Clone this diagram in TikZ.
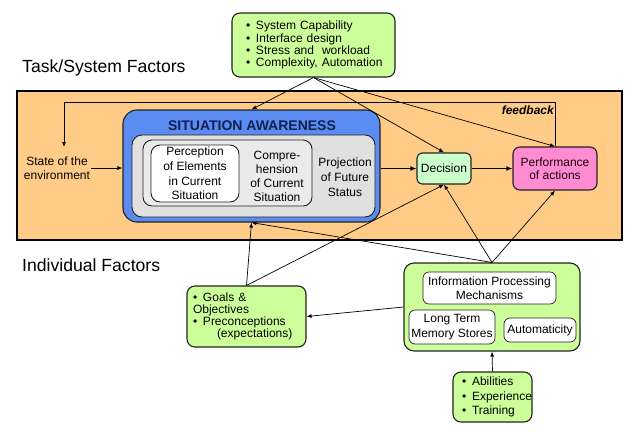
\documentclass[tikz,border=0pt]{standalone}
\usepackage{fontspec}
\setmainfont{Liberation Sans}
\usetikzlibrary{arrows.meta}
\frenchspacing
\definecolor{orangebg}{HTML}{FFCC88}
\definecolor{sablue}{HTML}{5A8CF2}
\definecolor{grayA}{HTML}{E0E0E0}
\definecolor{grayB}{HTML}{EAEAEA}
\definecolor{limeg}{HTML}{CCFF99}
\definecolor{mintg}{HTML}{CCFFCC}
\definecolor{pinkp}{HTML}{FF8CD0}
\definecolor{navy}{HTML}{132050}
\definecolor{bordr}{HTML}{222222}
\begin{document}
\begin{tikzpicture}[x=1pt,y=-1pt,
  box/.style={draw=bordr, line width=1.1pt, rounded corners=#1, inner sep=0pt},
  box/.default=8pt,
  wbox/.style={draw=bordr, line width=0.7pt, fill=white, rounded corners=6pt, inner sep=0pt, align=center,
    font=\fontsize{12}{14.5}\selectfont},
  arr/.style={-{Latex[length=5pt,width=4pt]}, line width=0.7pt},
  thickarr/.style={-{Latex[length=6pt,width=5pt]}, line width=1.6pt},
  txt/.style={align=center, inner sep=1pt, font=\fontsize{12}{14.5}\selectfont},
  heading/.style={anchor=west, inner sep=0pt, font=\fontsize{17.6}{20}\selectfont}
]
\useasboundingbox (0,0) rectangle (640,445);

% headings
\node[heading] (tsf) at (22,68) {Task/System Factors};
\node[heading] (indf) at (22,265) {Individual Factors};

% orange area
\node[draw=black, line width=2pt, fill=orangebg, minimum width=605pt, minimum height=149pt, inner sep=0pt] (orange) at (319.5,165.5) {};

% top box
\node[box, fill=limeg, minimum width=163pt, minimum height=64pt, text width=135pt, inner xsep=14pt, align=left,
  font=\fontsize{12}{12.2}\selectfont] (top) at (313.5,45)
  {\mbox{\makebox[10pt][l]{\textbullet}System Capability}\\
   \mbox{\makebox[10pt][l]{\textbullet}Interface design}\\
   \mbox{\makebox[10pt][l]{\textbullet}Stress and\ \ workload}\\
   \mbox{\makebox[10pt][l]{\textbullet}Complexity, Automation}};

% situation awareness
\node[box=14pt, fill=sablue, minimum width=257pt, minimum height=112pt] (sa) at (251.5,166) {};
\node[inner sep=0pt, text=navy, font=\fontsize{14}{16}\bfseries] (satitle) at (252,126) {SITUATION AWARENESS};
\node[box=10pt, fill=grayA, line width=0.9pt, minimum width=243pt, minimum height=82pt] (gray) at (253.5,176) {};
\node[box=9pt, fill=grayB, line width=0.9pt, minimum width=169pt, minimum height=66pt] (comp) at (227.5,173) {};
\node[box=9pt, fill=white, line width=0.9pt, minimum width=88pt, minimum height=57pt, align=center,
  font=\fontsize{12}{14.6}\selectfont] (perc) at (195,173.5)
  {Perception\\of Elements\\in Current\\Situation};
\node[txt, font=\fontsize{12}{14}\selectfont] (comptext) at (277,176) {Compre-\\hension\\of Current\\Situation};
\node[txt, font=\fontsize{12}{15}\selectfont] (proj) at (345,177) {Projection\\of Future\\Status};

% state
\node[txt, font=\fontsize{12}{14}\selectfont] (state) at (57,168) {State of the\\environment};

% decision & performance
\node[box=5pt, fill=mintg, minimum width=54pt, minimum height=31pt, font=\fontsize{12}{14}\selectfont] (dec) at (444,168.5) {Decision};
\node[box=7pt, fill=pinkp, minimum width=84pt, minimum height=43pt, align=center, text=black!85!purple,
  font=\fontsize{12}{12.5}\selectfont] (perf) at (555,168.5) {Performance\\of actions};

\node[inner sep=0pt, anchor=east, font=\fontsize{12}{14}\bfseries\itshape] (fb) at (554,110) {feedback};

% individual factors boxes
\node[box, fill=limeg, minimum width=119pt, minimum height=61pt, text width=107pt, inner xsep=6pt, align=left,
  font=\fontsize{12}{12}\selectfont] (goals) at (246.5,316.5)
  {\makebox[10pt][l]{\textbullet}Goals \&\\
   Objectives\\
   \makebox[10pt][l]{\textbullet}Preconceptions\\
   \hspace*{24pt}(expectations)};
\node[box=10pt, fill=limeg, minimum width=176pt, minimum height=88pt] (info) at (492,307) {};
\node[wbox, minimum width=133pt, minimum height=32pt] (ipm) at (489.5,288) {Information Processing\\Mechanisms};
\node[wbox, minimum width=86pt, minimum height=34pt, font=\fontsize{12}{15}\selectfont] (ltm) at (452,327) {Long Term\\Memory Stores};
\node[wbox, minimum width=72pt, minimum height=24pt] (auto) at (540,330) {Automaticity};
\node[box, fill=limeg, minimum width=79pt, minimum height=50pt, text width=61pt, inner xsep=9pt, align=left,
  font=\fontsize{12}{14.5}\selectfont] (abil) at (492.5,397)
  {\mbox{\makebox[10pt][l]{\textbullet}Abilities}\\
   \mbox{\makebox[10pt][l]{\textbullet}Experience}\\
   \mbox{\makebox[10pt][l]{\textbullet}Training}};

% connectors
\draw[arr] (state.east) -- (state.east -| sa.west);
\draw[thickarr] (sa.east |- dec.west) -- (dec.west);
\draw[thickarr] (dec.east) -- (dec.east -| perf.west);

\coordinate (fbL) at (64,102);
\coordinate (fbEnd) at (64,147);
\draw[arr] (perf.north) |- (fbL) -- (fbEnd);

\draw[arr] (top.south) -- (sa.north);
\draw[arr] (top.south) -- (dec.north);
\draw[arr] (top.south) -- (perf.north);

\draw[arr] (goals.north) -- (sa.south);
\draw[arr] (goals.north) -- (dec.south);
\draw[arr] (info.north) -- (sa.south);
\draw[arr] (info.north) -- (dec.south);
\draw[arr] (info.north) -- (perf.south);
\draw[arr] (info.west) -- (goals.east);
\draw[arr] (abil.north) -- (info.south);
\end{tikzpicture}
\end{document}
